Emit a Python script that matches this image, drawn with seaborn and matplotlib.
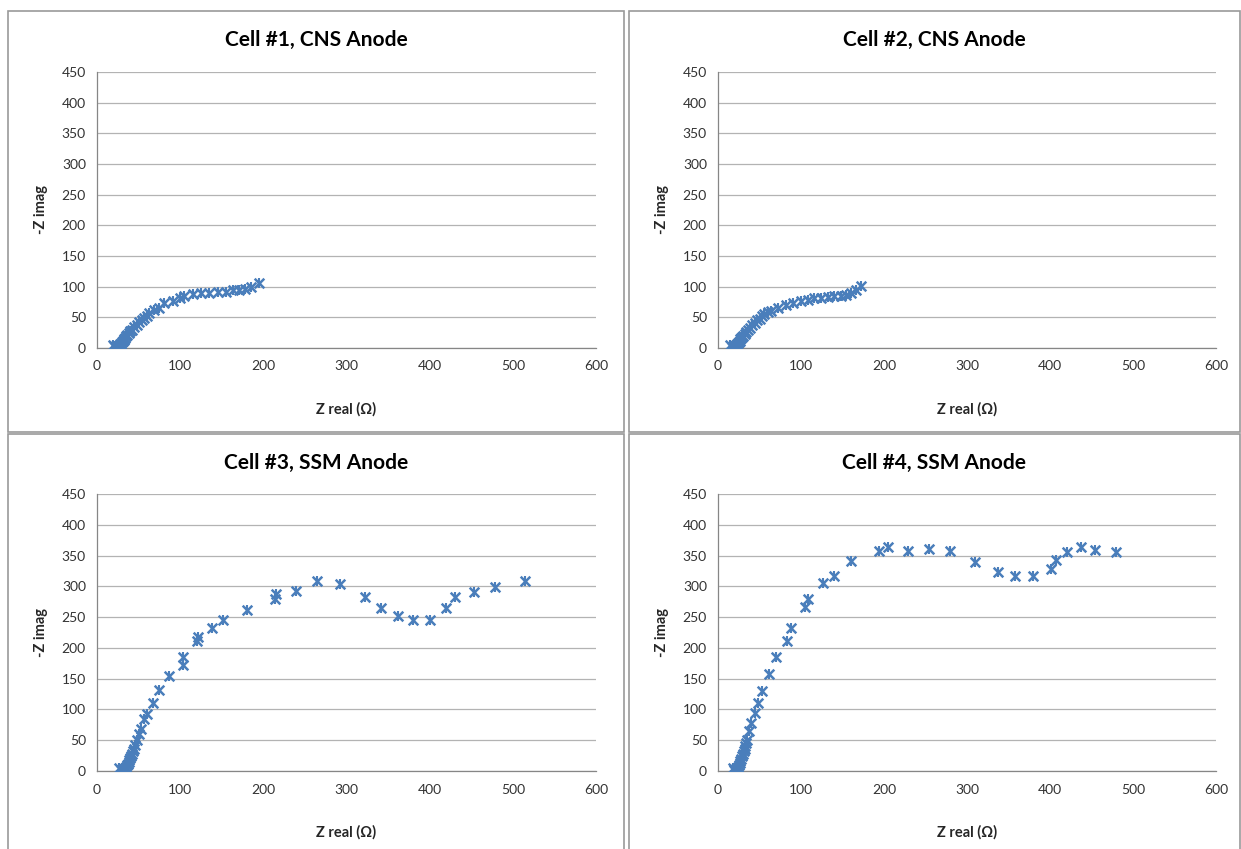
import matplotlib
matplotlib.use("Agg")
import matplotlib.pyplot as plt
import seaborn as sns
import pandas as pd
from matplotlib.patches import Rectangle

# ---- data ----
titles = ["Cell #1, CNS Anode", "Cell #2, CNS Anode", "Cell #3, SSM Anode", "Cell #4, SSM Anode"]

cell1_x = [19, 21, 22, 23, 24, 25, 26, 27, 28, 29, 30, 31, 32, 33, 34, 35, 36, 38, 40, 42,
           45, 48, 51, 54, 57, 60, 63, 68, 75, 81, 91, 100, 105, 115, 125, 135, 145, 155, 163, 171,
           178, 185, 195]
cell1_y = [5, 3, 1, 0, 1, 2, 3, 4, 6, 7, 9, 11, 13, 15, 17, 19, 21, 24, 27, 30,
           34, 38, 43, 46, 49, 52, 57, 62, 66, 73, 77, 82, 85, 88, 89, 90, 91, 92, 94, 95,
           97, 100, 106]

cell2_x = [15, 17, 18, 19, 20, 21, 22, 23, 24, 25, 26, 27, 28, 29, 30, 32, 34, 36, 38, 41,
           44, 47, 50, 53, 56, 60, 64, 72, 82, 90, 100, 108, 116, 124, 132, 140, 148, 154, 160, 166,
           172]
cell2_y = [5, 2, 0, 1, 2, 3, 5, 6, 8, 10, 12, 14, 16, 18, 20, 23, 26, 29, 32, 37,
           41, 45, 48, 52, 55, 58, 61, 66, 70, 74, 76, 79, 81, 82, 83, 84, 85, 87, 90, 95,
           101]

cell3_x = [27, 29, 30, 31, 32, 33, 34, 35, 36, 37, 38, 39, 40, 41, 42, 43, 44, 46, 48, 50,
           53, 57, 60, 67, 75, 87, 103, 104, 120, 122, 138, 151, 180, 214, 215, 239, 264, 292, 322, 342,
           362, 380, 400, 420, 431, 453, 478, 515]
cell3_y = [5, 2, 1, 0, 1, 3, 5, 7, 9, 12, 15, 18, 21, 24, 28, 32, 36, 42, 51, 60,
           68, 84, 93, 110, 131, 154, 173, 185, 211, 218, 232, 246, 262, 279, 288, 293, 308, 304, 282, 265,
           252, 245, 246, 264, 282, 291, 299, 308]

cell4_x = [18, 19, 20, 21, 22, 23, 24, 25, 26, 27, 28, 29, 30, 31, 32, 33, 34, 35,
           37, 40, 44, 48, 53, 61, 70, 83, 88, 105, 108, 126, 140, 160, 194, 205, 229, 254, 279, 310,
           337, 358, 379, 401, 407, 420, 437, 454, 479]
cell4_y = [5, 2, 0, 1, 3, 5, 7, 10, 13, 16, 20, 24, 28, 32, 36, 40, 45, 50,
           65, 78, 95, 111, 130, 157, 185, 212, 232, 267, 279, 305, 316, 341, 358, 364, 358, 361, 358, 339,
           323, 317, 316, 328, 343, 355, 364, 359, 355]

x_ticks = [0, 100, 200, 300, 400, 500, 600]
y_ticks = [0, 50, 100, 150, 200, 250, 300, 350, 400, 450]

series = [(cell1_x, cell1_y), (cell2_x, cell2_y), (cell3_x, cell3_y), (cell4_x, cell4_y)]

# ---- style ----
sns.set_style("white")
plt.rcParams["font.family"] = ["Lato", "DejaVu Sans"]

W, H = 1241, 849
fig = plt.figure(figsize=(W / 100, H / 100), dpi=100)

def fx(px):
    return px / W

def fy(py):
    return 1 - py / H

# panel boxes (left, top, right, bottom) in pixels
boxes = [(8, 11, 624, 432), (629, 11, 1240, 432), (8, 434, 624, 860), (629, 434, 1240, 860)]
# axes extents (x0, x1, ytop, ybottom) in pixels
axes_px = [(97, 596, 72, 348), (718, 1216, 72, 348), (97, 596, 494, 771), (718, 1216, 494, 771)]

color = "#4a7ebb"
for i, ((bx0, by0, bx1, by1), (ax0, ax1, ay0, ay1), (xs, ys), title) in enumerate(
        zip(boxes, axes_px, series, titles)):
    fig.patches.append(Rectangle((fx(bx0), fy(by1)), fx(bx1 - bx0), (by1 - by0) / H,
                                 transform=fig.transFigure, fill=False,
                                 edgecolor="#9a9a9a", linewidth=1.2, zorder=0))
    ax = fig.add_axes([fx(ax0), fy(ay1), fx(ax1 - ax0), (ay1 - ay0) / H])
    df = pd.DataFrame({"x": xs, "y": ys})
    # Excel-style "star" marker: an x plus a vertical stroke
    sns.scatterplot(data=df, x="x", y="y", ax=ax, marker="x", s=48,
                    color=color, linewidth=1.8, legend=False, zorder=3)
    sns.scatterplot(data=df, x="x", y="y", ax=ax, marker="|", s=48,
                    color=color, linewidth=1.5, legend=False, zorder=3)
    ax.set_xlim(0, 600)
    ax.set_ylim(0, 450)
    ax.set_xticks(x_ticks)
    ax.set_yticks(y_ticks)
    ax.tick_params(axis="both", labelsize=10, colors="#333333", length=4,
                   width=0.8, direction="out")
    ax.tick_params(axis="x", color="#868686", pad=5)
    ax.tick_params(axis="y", color="#868686", pad=4)
    ax.yaxis.grid(True, color="#b3b3b3", linewidth=0.9)
    ax.xaxis.grid(False)
    for s in ["top", "right"]:
        ax.spines[s].set_visible(False)
    for s in ["left", "bottom"]:
        ax.spines[s].set_color("#868686")
        ax.spines[s].set_linewidth(0.9)
    ax.set_xlabel("Z real (\u03a9)", fontsize=10.5, fontweight="bold", labelpad=21)
    ax.set_ylabel("-Z imag", fontsize=10.5, fontweight="bold", labelpad=10)
    ax.set_axisbelow(True)
    cx = (bx0 + bx1) / 2
    fig.text(fx(cx), fy(by0 + 29), title, ha="center", va="center",
             fontsize=15, fontweight="bold", color="#000000")

fig.savefig("out.png", dpi=100)
